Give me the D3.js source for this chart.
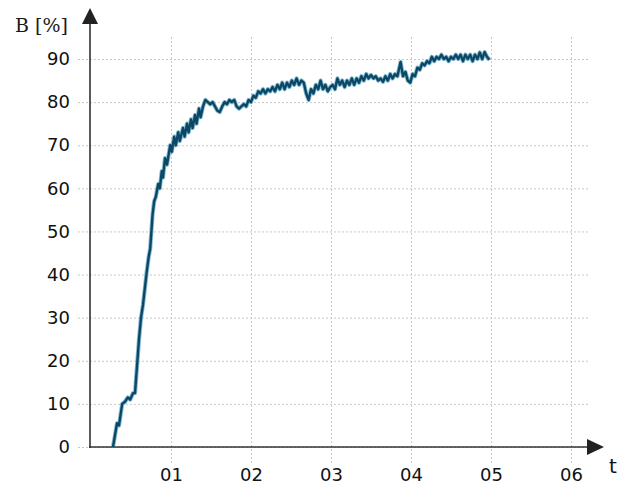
<!DOCTYPE html>
<html>
<head>
<meta charset="utf-8">
<script src="https://cdn.jsdelivr.net/npm/d3@7"></script>
<style>
  html, body { margin: 0; padding: 0; background: #fff; }
  svg { display: block; }
</style>
</head>
<body>
<svg id="chart" width="627" height="493"></svg>
<script>
// tick values on each axis
var xTicks = [1, 2, 3, 4, 5, 6];
var xTickLabels = ["01", "02", "03", "04", "05", "06"];
var yTicks = [0, 10, 20, 30, 40, 50, 60, 70, 80, 90];

// time t and B [%]
var tValues = [
  0.275, 0.325, 0.35, 0.39, 0.425, 0.46, 0.49, 0.525, 0.55, 0.60,
  0.625, 0.65, 0.695, 0.72, 0.74, 0.77, 0.79, 0.81, 0.84, 0.86,
  0.885, 0.90, 0.925, 0.95, 0.99, 1.01, 1.04, 1.06, 1.09, 1.11,
  1.15, 1.17, 1.20, 1.22, 1.25, 1.27, 1.30, 1.32, 1.35, 1.37,
  1.40, 1.43, 1.46, 1.49, 1.52, 1.55, 1.58, 1.61, 1.64, 1.67,
  1.70, 1.73, 1.76, 1.79, 1.82, 1.85, 1.88, 1.91, 1.94, 1.97,
  2.00, 2.03, 2.06, 2.09, 2.12, 2.15, 2.18, 2.21, 2.24, 2.27,
  2.30, 2.33, 2.36, 2.39, 2.42, 2.45, 2.48, 2.51, 2.54, 2.57,
  2.60, 2.63, 2.66, 2.69, 2.72, 2.75, 2.78, 2.81, 2.84, 2.87,
  2.90, 2.93, 2.96, 2.99, 3.02, 3.05, 3.08, 3.11, 3.14, 3.17,
  3.20, 3.23, 3.26, 3.29, 3.32, 3.35, 3.38, 3.41, 3.44, 3.47,
  3.50, 3.53, 3.56, 3.59, 3.62, 3.65, 3.68, 3.71, 3.74, 3.77,
  3.80, 3.83, 3.87, 3.90, 3.93, 3.96, 3.99, 4.02, 4.05, 4.08,
  4.11, 4.14, 4.17, 4.20, 4.23, 4.26, 4.29, 4.32, 4.35, 4.38,
  4.41, 4.44, 4.47, 4.50, 4.53, 4.56, 4.59, 4.62, 4.65, 4.68,
  4.71, 4.74, 4.77, 4.80, 4.83, 4.86, 4.89, 4.92, 4.95, 4.98
];
var bValues = [
  0, 5.5, 5, 10, 10.5, 11.5, 11, 12.5, 12.5, 25,
  30, 33, 40.4, 44, 46, 54, 57, 58, 61, 60,
  64, 62.5, 67, 65.5, 70, 68.5, 72, 70, 73, 71,
  74, 72, 75, 73, 76, 74, 77, 75, 78.5, 76.5,
  79, 80.5, 80, 79.5, 80, 79, 78, 77.7, 79, 80,
  79.5, 80.5, 80, 80.5, 79, 78.5, 79, 79.5, 79, 80.5,
  80, 81.5, 81, 82.5, 82, 83, 82, 83, 82.5, 83.5,
  82.5, 84, 83, 84.5, 83, 84.5, 83.5, 85, 84, 85.5,
  84, 85, 84.5, 82, 80.5, 83, 82, 84, 83, 85,
  83, 84, 82.5, 83.5, 84, 83, 85.5, 84, 85, 83.5,
  85, 84, 85.5, 84, 85.5, 84.5, 86, 85, 86.5, 85.5,
  86.3, 85.5, 86, 85, 85.5, 84.7, 86, 85, 86.5, 85.5,
  86.5, 86, 89.3, 86, 87, 85, 84.5, 86.5, 86, 88,
  87.5, 89, 88.5, 89.5, 89, 90.5, 89.5, 90.5, 90, 91,
  90, 90.5, 89.5, 90.5, 90, 91, 90, 91, 89.5, 91,
  90, 91, 89.5, 91, 90, 91.5, 90, 91.6, 90.5, 89.8
];

var data = tValues.map(function (t, i) { return { t: t, b: bValues[i] }; });

var svg = d3.select("#chart");

var x = d3.scaleLinear().domain([0, 6]).range([91, 571]);
var y = d3.scaleLinear().domain([0, 90]).range([447, 59]);

// grid lines (dotted)
var grid = svg.append("g")
  .attr("stroke", "#c8c8c8")
  .attr("stroke-width", 1)
  .attr("stroke-dasharray", "2,2");

grid.selectAll("line.h")
  .data(yTicks)
  .enter().append("line")
  .attr("class", "h")
  .attr("x1", 78).attr("x2", 590)
  .attr("y1", d => y(d) + 0.5).attr("y2", d => y(d) + 0.5);

grid.selectAll("line.v")
  .data(xTicks)
  .enter().append("line")
  .attr("class", "v")
  .attr("x1", d => x(d) + 0.5).attr("x2", d => x(d) + 0.5)
  .attr("y1", 37).attr("y2", 463);

// axes via d3 axis, then restyled
var yAxis = svg.append("g")
  .attr("transform", "translate(90,0)")
  .call(d3.axisLeft(y).tickValues(yTicks).tickSize(0).tickPadding(20));
yAxis.select(".domain").remove();
yAxis.selectAll("text")
  .attr("font-family", "DejaVu Sans, Verdana, sans-serif")
  .attr("font-size", 18)
  .attr("fill", "#111");

var xAxis = svg.append("g")
  .attr("transform", "translate(0,447)")
  .call(d3.axisBottom(x).tickValues(xTicks).tickSize(0).tickPadding(21)
    .tickFormat((d, i) => xTickLabels[i]));
xAxis.select(".domain").remove();
xAxis.selectAll("text")
  .attr("font-family", "DejaVu Sans, Verdana, sans-serif")
  .attr("font-size", 18)
  .attr("fill", "#111");

// axis lines with arrows
svg.append("line")
  .attr("x1", 90).attr("x2", 90).attr("y1", 448).attr("y2", 20)
  .attr("stroke", "#333").attr("stroke-width", 1.6);
svg.append("path")
  .attr("d", "M90,8 L82,24 L98,24 Z")
  .attr("fill", "#222");

svg.append("line")
  .attr("x1", 89).attr("x2", 592).attr("y1", 447).attr("y2", 447)
  .attr("stroke", "#333").attr("stroke-width", 1.6);
svg.append("path")
  .attr("d", "M604,447 L587,439 L587,455 Z")
  .attr("fill", "#222");

// axis titles
svg.append("text")
  .attr("x", 15).attr("y", 32)
  .attr("font-family", "DejaVu Serif, serif")
  .attr("font-size", 19)
  .attr("fill", "#1a1a1a")
  .text("B [%]");

svg.append("text")
  .attr("x", 609).attr("y", 473)
  .attr("font-family", "DejaVu Sans, Verdana, sans-serif")
  .attr("font-size", 20)
  .attr("fill", "#111")
  .text("t");

// data line
var line = d3.line().x(d => x(d.t)).y(d => y(d.b));

svg.append("path")
  .datum(data)
  .attr("d", line)
  .attr("fill", "none")
  .attr("stroke", "#2f8cb8")
  .attr("stroke-opacity", 0.6)
  .attr("stroke-width", 4.2)
  .attr("stroke-linejoin", "round");

svg.append("path")
  .datum(data)
  .attr("d", line)
  .attr("fill", "none")
  .attr("stroke", "#0c4764")
  .attr("stroke-width", 2.4)
  .attr("stroke-linejoin", "round");
</script>
</body>
</html>
